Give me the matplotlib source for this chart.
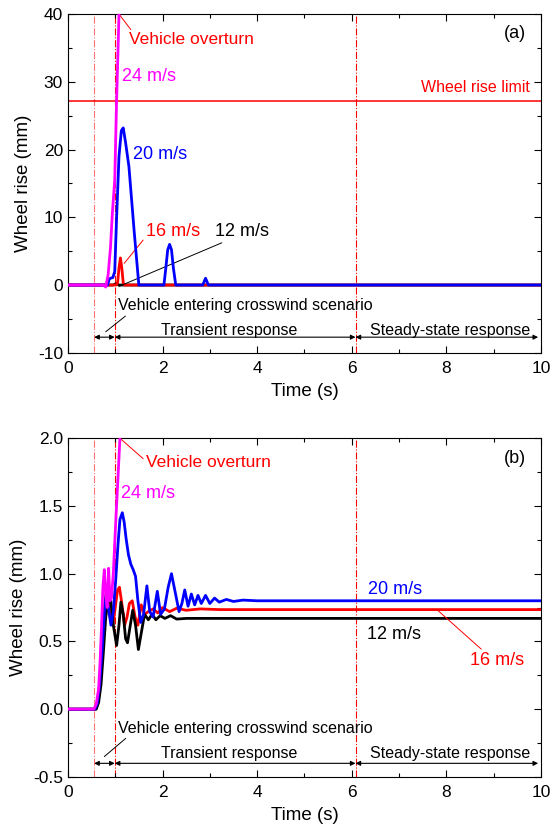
import matplotlib
matplotlib.use("Agg")
import matplotlib.pyplot as plt
from matplotlib.ticker import MultipleLocator, FormatStrFormatter

plt.rcParams["font.family"] = ["Liberation Sans", "DejaVu Sans"]
plt.rcParams["axes.unicode_minus"] = False

# ── data: panel (a) wheel rise, mm ───────────────────────────────────────────
t_a_12 = [0, 0.95, 1.02, 1.08, 10]
w_a_12 = [0, 0, 0.2, 0, 0]

t_a_16 = [0, 0.85, 1.02, 1.05, 1.08, 1.11, 1.14, 1.17, 1.2, 10]
w_a_16 = [0, 0, 0, 0.3, 2.5, 4.0, 2.5, 0.3, 0, 0]

t_a_20 = [0, 0.84, 0.87, 0.9, 0.95, 0.99, 1.03, 1.08, 1.13, 1.17, 1.22, 1.29,
          1.4, 1.5, 2.03, 2.07, 2.11, 2.15, 2.19, 2.23, 2.28, 2.85, 2.88,
          2.91, 2.94, 2.97, 10]
w_a_20 = [0, 0, 0.8, 1.0, 1.1, 2.0, 10.0, 19.0, 22.8, 23.2, 21.0, 17.5,
          8.0, 0, 0, 2.5, 5.2, 6.0, 5.2, 2.5, 0, 0, 0.5, 1.0, 0.5, 0, 0]

t_a_24 = [0, 0.75, 0.8, 0.85, 0.9, 0.94, 0.99, 1.03, 1.08]
w_a_24 = [0, 0, -0.3, 1.5, 5.5, 10.6, 15.5, 27.3, 40.0]

wheel_rise_limit = 27.2

# ── data: panel (b) wheel rise, mm ───────────────────────────────────────────
t_b_12 = [0, 0.6, 0.65, 0.7, 0.75, 0.8, 0.85, 0.9, 0.96, 1.03, 1.08, 1.12,
          1.17, 1.22, 1.26, 1.31, 1.37, 1.43, 1.49, 1.55, 1.62, 1.7, 1.78,
          1.86, 1.95, 2.05, 2.17, 2.3, 2.5, 10]
w_b_12 = [0, 0, 0.05, 0.18, 0.42, 0.68, 0.8, 0.82, 0.62, 0.47, 0.62, 0.79,
          0.7, 0.52, 0.49, 0.6, 0.73, 0.62, 0.44, 0.56, 0.7, 0.66, 0.7,
          0.66, 0.69, 0.67, 0.69, 0.665, 0.67, 0.67]

t_b_16 = [0, 0.58, 0.63, 0.68, 0.73, 0.78, 0.82, 0.86, 0.9, 0.95, 1.0, 1.05,
          1.09, 1.14, 1.2, 1.25, 1.3, 1.36, 1.42, 1.48, 1.55, 1.62, 1.7,
          1.8, 1.9, 2.0, 2.15, 2.3, 2.5, 2.8, 3.2, 10]
w_b_16 = [0, 0, 0.05, 0.22, 0.5, 0.78, 0.88, 0.8, 0.66, 0.62, 0.75, 0.88,
          0.9, 0.78, 0.62, 0.68, 0.78, 0.8, 0.68, 0.62, 0.77, 0.7, 0.72,
          0.74, 0.71, 0.75, 0.72, 0.745, 0.73, 0.74, 0.735, 0.735]

t_b_20 = [0, 0.57, 0.62, 0.67, 0.72, 0.77, 0.81, 0.86, 0.91, 0.96, 1.01,
          1.06, 1.1, 1.15, 1.19, 1.23, 1.28, 1.33, 1.38, 1.43, 1.48, 1.54,
          1.6, 1.67, 1.73, 1.8, 1.89, 1.96, 2.04, 2.12, 2.19, 2.27, 2.35,
          2.41, 2.47, 2.54, 2.61, 2.68, 2.75, 2.82, 2.91, 3.0, 3.1, 3.2,
          3.35, 3.5, 3.7, 4.0, 10]
w_b_20 = [0, 0, 0.04, 0.18, 0.42, 0.7, 0.86, 0.74, 0.62, 0.72, 0.95,
          1.22, 1.4, 1.45, 1.38, 1.26, 1.14, 1.07, 1.03, 0.98, 0.8, 0.64,
          0.7, 0.91, 0.72, 0.68, 0.87, 0.7, 0.74, 0.9, 1.0, 0.86, 0.72,
          0.78, 0.88, 0.76, 0.85, 0.77, 0.84, 0.78, 0.84, 0.78, 0.82, 0.79,
          0.81, 0.795, 0.805, 0.8, 0.8]

t_b_24 = [0, 0.55, 0.6, 0.65, 0.68, 0.71, 0.74, 0.77, 0.8, 0.83, 0.86,
          0.89, 0.92, 0.96, 1.0, 1.05, 1.1]
w_b_24 = [0, 0, 0.04, 0.15, 0.35, 0.6, 0.9, 1.03, 0.85, 0.75, 1.04,
          0.8, 0.82, 1.0, 1.3, 1.65, 2.0]

# phase boundaries (s)
t_enter = 0.555
t_start = 0.99
t_steady = 6.08
t_end = 9.94

colors = {"12": "black", "16": "#FF0000", "20": "#0000FF", "24": "#FF00FF"}


def style_axes(ax, ylim, ymajor, yminor):
    ax.set_xlim(0, 10)
    ax.set_ylim(*ylim)
    ax.xaxis.set_major_locator(MultipleLocator(2))
    ax.xaxis.set_minor_locator(MultipleLocator(1))
    ax.yaxis.set_major_locator(MultipleLocator(ymajor))
    ax.yaxis.set_minor_locator(MultipleLocator(yminor))
    ax.tick_params(which="both", direction="in", top=True, right=True,
                   labelsize=12.5, width=0.8)
    ax.tick_params(which="major", length=5)
    ax.tick_params(which="minor", length=3)
    ax.tick_params(axis="x", pad=6)
    ax.set_xlabel("Time (s)", fontsize=13.5, labelpad=5)
    ax.set_ylabel("Wheel rise (mm)", fontsize=13.5, labelpad=4)


def phases(ax, y_arrow, y_enter, y_trans, lead):
    for x, a in [(t_enter, 0.55), (t_start, 1.0), (t_steady, 1.0)]:
        ax.axvline(x, color="#FF0000", lw=0.8, ls="-.", alpha=a, zorder=1)
    arr = dict(arrowstyle="<|-|>", color="black", lw=0.8,
               mutation_scale=7, shrinkA=0, shrinkB=0)
    for x0, x1 in [(t_enter, t_start), (t_start, t_steady), (t_steady, t_end)]:
        ax.annotate("", xy=(x1, y_arrow), xytext=(x0, y_arrow), arrowprops=arr)
    ax.annotate("Vehicle entering crosswind scenario", xy=lead,
                xytext=(1.06, y_enter), fontsize=11.5, va="center",
                arrowprops=dict(arrowstyle="-", lw=0.7, color="black",
                                shrinkA=0, shrinkB=0, relpos=(0.05, 0.1)))
    ax.text(1.96, y_trans, "Transient response", fontsize=11.5, va="center")
    ax.text(6.39, y_trans, "Steady-state response", fontsize=11.5,
            va="center")


fig = plt.figure(figsize=(5.52, 8.3), dpi=100)
ax1 = fig.add_axes([0.123, 0.575, 0.857, 0.408])
ax2 = fig.add_axes([0.123, 0.064, 0.857, 0.408])

# ── panel (a) ───────────────────────────────────────────────────────────────
lw = 2.0
ax1.plot(t_a_12, w_a_12, color=colors["12"], lw=lw, zorder=3)
ax1.plot(t_a_16, w_a_16, color=colors["16"], lw=lw, zorder=3)
ax1.plot(t_a_20, w_a_20, color=colors["20"], lw=lw, zorder=4)
ax1.plot(t_a_24, w_a_24, color=colors["24"], lw=lw, zorder=5)
ax1.axhline(wheel_rise_limit, color="#FF0000", lw=1.1, zorder=2)
style_axes(ax1, (-10, 40), 10, 5)

ax1.text(9.77, 29.1, "Wheel rise limit", color="#FF0000", fontsize=11.5,
         ha="right", va="center")
ax1.text(9.45, 37.2, "(a)", fontsize=13, ha="center", va="center")
ax1.annotate("Vehicle overturn", xy=(1.08, 40), xytext=(1.29, 36.2),
             color="#FF0000", fontsize=12.5, va="center",
             arrowprops=dict(arrowstyle="-", color="#FF0000", lw=0.7,
                             shrinkA=0, shrinkB=0, relpos=(0.06, 0.7)))
ax1.text(1.15, 30.75, "24 m/s", color=colors["24"], fontsize=13,
         va="center")
ax1.text(1.37, 19.2, "20 m/s", color=colors["20"], fontsize=13,
         va="center")
ax1.annotate("16 m/s", xy=(1.19, 3.2), xytext=(1.65, 7.9),
             color=colors["16"], fontsize=13, va="center",
             arrowprops=dict(arrowstyle="-", color="#FF0000", lw=0.7,
                             shrinkA=0, shrinkB=0, relpos=(0.0, 0.2)))
ax1.annotate("12 m/s", xy=(1.08, -0.2), xytext=(3.12, 7.9),
             color="black", fontsize=13, va="center",
             arrowprops=dict(arrowstyle="-", color="black", lw=0.7,
                             shrinkA=0, shrinkB=0, relpos=(0.35, 0.15)))
phases(ax1, -7.7, -3.07, -6.7, (0.8, -6.9))

# ── panel (b) ───────────────────────────────────────────────────────────────
ax2.plot(t_b_16, w_b_16, color=colors["16"], lw=lw, zorder=3)
ax2.plot(t_b_12, w_b_12, color=colors["12"], lw=lw, zorder=3)
ax2.plot(t_b_20, w_b_20, color=colors["20"], lw=lw, zorder=4)
ax2.plot(t_b_24, w_b_24, color=colors["24"], lw=lw, zorder=5)
style_axes(ax2, (-0.5, 2.0), 0.5, 0.25)
ax2.yaxis.set_major_formatter(FormatStrFormatter("%.1f"))

ax2.text(9.45, 1.85, "(b)", fontsize=13, ha="center", va="center")
ax2.annotate("Vehicle overturn", xy=(1.10, 2.0), xytext=(1.65, 1.82),
             color="#FF0000", fontsize=12.5, va="center",
             arrowprops=dict(arrowstyle="-", color="#FF0000", lw=0.7,
                             shrinkA=0, shrinkB=0, relpos=(0.0, 0.6)))
ax2.text(1.12, 1.595, "24 m/s", color=colors["24"], fontsize=13,
         va="center")
ax2.text(6.35, 0.88, "20 m/s", color=colors["20"], fontsize=13,
         va="center")
ax2.text(6.32, 0.553, "12 m/s", color="black", fontsize=13, va="center")
ax2.annotate("16 m/s", xy=(7.8, 0.735), xytext=(8.5, 0.36),
             color=colors["16"], fontsize=13, va="center",
             arrowprops=dict(arrowstyle="-", color="#FF0000", lw=0.7,
                             shrinkA=0, shrinkB=0, relpos=(0.3, 0.9)))
phases(ax2, -0.40, -0.14, -0.33, (0.77, -0.35))

fig.savefig("out.png", dpi=100)
